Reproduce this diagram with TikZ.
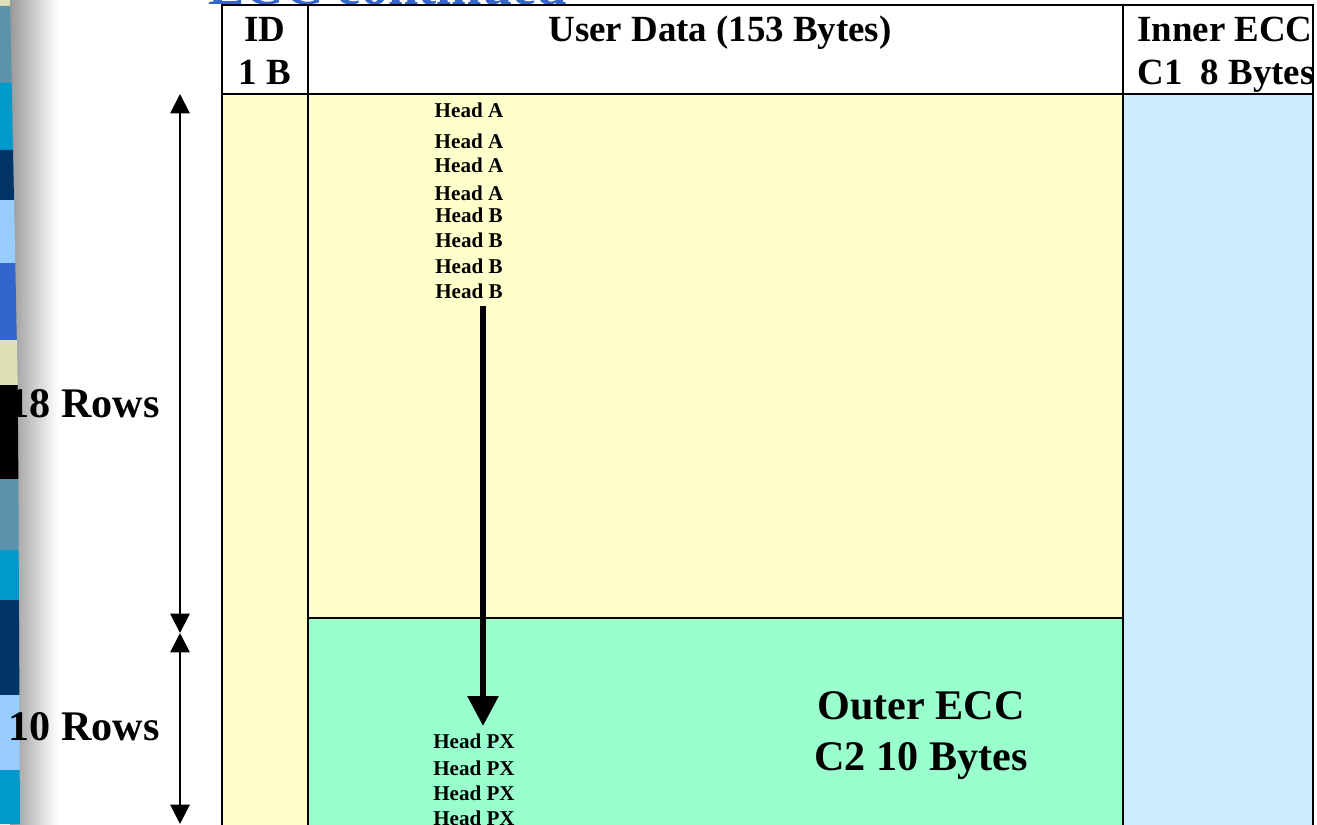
\documentclass[tikz,border=0pt]{standalone}
\usepackage{fontspec}
\setmainfont{Liberation Serif}
\usetikzlibrary{arrows.meta,positioning}

\definecolor{datafill}{RGB}{255,255,204}
\definecolor{outerfill}{RGB}{153,255,204}
\definecolor{innerfill}{RGB}{204,236,255}
\definecolor{titleblue}{RGB}{51,102,204}
\definecolor{tilesteel}{RGB}{91,147,171}
\definecolor{tilecyan}{RGB}{0,153,204}
\definecolor{tilenavy}{RGB}{0,51,102}
\definecolor{tilesky}{RGB}{153,204,255}
\definecolor{tileroyal}{RGB}{51,102,204}
\definecolor{tilebeige}{RGB}{223,223,184}

\begin{document}
\begin{tikzpicture}[x=0.02cm, y=-0.02cm,
>={Triangle[width=11pt,length=11pt]},
cell/.style={draw, line width=1.2pt},
hdr/.style={font=\bfseries\fontsize{21}{24}\selectfont, inner sep=0pt, anchor=base},
rows/.style={font=\bfseries\fontsize{24}{29}\selectfont, inner sep=0pt, anchor=base},
head/.style={font=\bfseries\fontsize{12}{14}\selectfont, inner sep=0pt, anchor=base},
ecc/.style={font=\bfseries\fontsize{24}{29}\selectfont, inner sep=0pt, anchor=base},
titletext/.style={font=\bfseries\fontsize{31}{36}\selectfont, text=titleblue, inner sep=0pt, anchor=base west},
span/.style={<->, line width=1.1pt},
flow/.style={-{Triangle[width=17pt,length=17pt]}, line width=3.4pt}]

\useasboundingbox (0,0) rectangle (1317,824);
\clip (0,0) rectangle (1317,824);

% tiled border of the slide, with its shadow
\shade[left color=black!40, right color=white] (10,0) rectangle (58,824);
\fill[tilebeige] (0,0) -- (10,0) -- (10.1,6) -- (0,6) -- cycle;
\fill[tilesteel] (0,6) -- (10.1,6) -- (11.7,83) -- (0,83) -- cycle;
\fill[tilecyan] (0,83) -- (11.7,83) -- (13,150) -- (0,150) -- cycle;
\fill[tilenavy] (0,150) -- (13,150) -- (14,200) -- (0,200) -- cycle;
\fill[tilesky] (0,200) -- (14,200) -- (15.3,263) -- (0,263) -- cycle;
\fill[tileroyal] (0,263) -- (15.3,263) -- (16.8,340) -- (0,340) -- cycle;
\fill[tilebeige] (0,340) -- (16.8,340) -- (17.7,385) -- (0,385) -- cycle;
\fill[black] (0,385) -- (17.7,385) -- (18.4,479) -- (0,479) -- cycle;
\fill[tilesteel] (0,479) -- (18.4,479) -- (18.7,550) -- (0,550) -- cycle;
\fill[tilecyan] (0,550) -- (18.7,550) -- (18.9,600) -- (0,600) -- cycle;
\fill[tilenavy] (0,600) -- (18.9,600) -- (19.4,695) -- (0,695) -- cycle;
\fill[tilesky] (0,695) -- (19.4,695) -- (19.7,770) -- (0,770) -- cycle;
\fill[tilecyan] (0,770) -- (19.7,770) -- (20,824) -- (0,824) -- cycle;

% slide title, mostly above the page
\node[titletext] (title) at (208,5) {ECC continued};

% frame layout
\fill[datafill] (222,94) rectangle (308,830);
\fill[datafill] (308,94) rectangle (1123,618);
\fill[outerfill] (308,618) rectangle (1123,830);
\fill[innerfill] (1123,94) rectangle (1313,830);
\draw[cell] (222,830) -- (222,5) -- (1313,5) -- (1313,830);
\draw[cell] (222,94) -- (1313,94);
\draw[cell] (308,5) -- (308,830);
\draw[cell] (1123,5) -- (1123,830);
\draw[cell] (308,618) -- (1123,618);

\node[hdr] (id1) at (265,42) {ID};
\node[hdr] (id2) at (265,85) {1 B};
\node[hdr] (user) at (720,42) {User Data (153 Bytes)};
\node[hdr, anchor=base west] (inner1) at (1137,42) {Inner ECC};
\node[hdr, anchor=base west] (inner2) at (1137,85) {C1\ \ 8 Bytes};

% row counts
\coordinate (spantop) at (180,94);
\coordinate (spanmid) at (180,633);
\coordinate (spanbot) at (180,824);
\draw[span] (spantop) -- (spanmid);
\draw[span] (spanmid) -- (spanbot);
\node[rows] (rows18) at (84,417) {18 Rows};
\node[rows] (rows10) at (84,740) {10 Rows};

% heads written down the column
\node[head] (ha1) at (469,118) {Head A};
\node[head] (ha2) at (469,149) {Head A};
\node[head] (ha3) at (469,173) {Head A};
\node[head] (ha4) at (469,200) {Head A};
\node[head] (hb1) at (469,222) {Head B};
\node[head] (hb2) at (469,247) {Head B};
\node[head] (hb3) at (469,273) {Head B};
\node[head] (hb4) at (469,298) {Head B};
\node[head] (px1) at (474,748) {Head PX};
\node[head] (px2) at (474,775) {Head PX};
\node[head] (px3) at (474,800) {Head PX};
\node[head] (px4) at (474,825) {Head PX};

\coordinate (flowx) at (483,0);
\draw[flow, shorten <=4pt, shorten >=4pt] (hb4.south -| flowx) -- (px1.north -| flowx);

\node[ecc] (outer1) at (921,719) {Outer ECC};
\node[ecc] (outer2) at (921,770) {C2 10 Bytes};
\end{tikzpicture}
\end{document}
